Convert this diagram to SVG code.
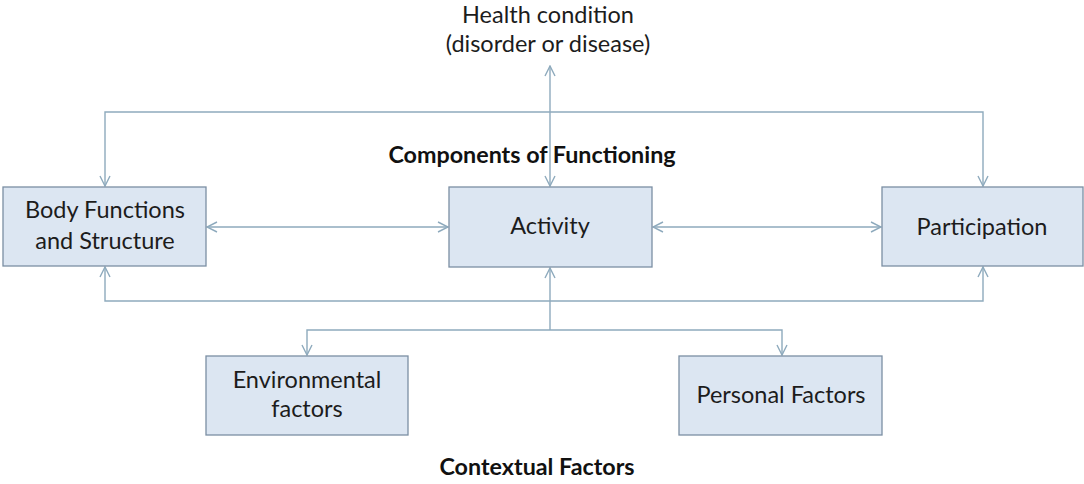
<svg xmlns="http://www.w3.org/2000/svg" width="1084" height="484" viewBox="0 0 1084 484">
  <style>
    .box { fill: #dce6f2; stroke: #7b8fa3; stroke-width: 1.3; }
    .lbl { font-family: Lato, "Open Sans", sans-serif; font-size: 23.5px; fill: #1c1c1c; text-anchor: middle; }
    .hdr { font-family: Lato, "Open Sans", sans-serif; font-size: 23.3px; font-weight: bold; fill: #111; text-anchor: middle; }
    .conn { fill: none; stroke: #8eaabd; stroke-width: 1.4; }
  </style>
  <defs>
    <marker id="arr" viewBox="0 0 12 12" refX="11" refY="6" markerWidth="12" markerHeight="12" markerUnits="userSpaceOnUse" orient="auto-start-reverse">
      <path d="M1,1 L11,6 L1,11" fill="none" stroke="#8eaabd" stroke-width="1.4"/>
    </marker>
  </defs>
  <rect width="1084" height="484" fill="#ffffff"/>

  <g id="connectors">
    <!-- health condition link -->
    <line class="conn" x1="550" y1="66" x2="550" y2="186" marker-start="url(#arr)" marker-end="url(#arr)"/>
    <!-- upper loop: body functions to participation -->
    <path class="conn" d="M105,186 V112 H983 V186" marker-start="url(#arr)" marker-end="url(#arr)"/>
    <!-- lower loop -->
    <path class="conn" d="M105,267 V301 H983 V267" marker-start="url(#arr)" marker-end="url(#arr)"/>
    <!-- horizontal links -->
    <line class="conn" x1="207" y1="227" x2="448" y2="227" marker-start="url(#arr)" marker-end="url(#arr)"/>
    <line class="conn" x1="653" y1="227" x2="881" y2="227" marker-start="url(#arr)" marker-end="url(#arr)"/>
    <!-- contextual factors branch -->
    <line class="conn" x1="550" y1="330" x2="550" y2="268" marker-end="url(#arr)"/>
    <path class="conn" d="M307,355 V330 H782 V355" marker-start="url(#arr)" marker-end="url(#arr)"/>
  </g>

  <g id="health">
    <text class="lbl" x="548" y="23">Health condition</text>
    <text class="lbl" x="548" y="52">(disorder or disease)</text>
  </g>
  <g id="components-title">
    <text class="hdr" x="532" y="163">Components of Functioning</text>
  </g>

  <g id="body">
    <rect class="box" x="3" y="187" width="203" height="79"/>
    <text class="lbl" x="105" y="218">Body Functions</text>
    <text class="lbl" x="105" y="249">and Structure</text>
  </g>
  <g id="activity">
    <rect class="box" x="449" y="187" width="203" height="80"/>
    <text class="lbl" x="550" y="234">Activity</text>
  </g>
  <g id="participation">
    <rect class="box" x="882" y="187" width="201" height="79"/>
    <text class="lbl" x="982" y="235">Participation</text>
  </g>
  <g id="environmental">
    <rect class="box" x="206" y="356" width="202" height="79"/>
    <text class="lbl" x="307" y="388">Environmental</text>
    <text class="lbl" x="307" y="417">factors</text>
  </g>
  <g id="personal">
    <rect class="box" x="679" y="356" width="203" height="79"/>
    <text class="lbl" x="781" y="403">Personal Factors</text>
  </g>
  <g id="contextual-title">
    <text class="hdr" x="537" y="475">Contextual Factors</text>
  </g>
</svg>
